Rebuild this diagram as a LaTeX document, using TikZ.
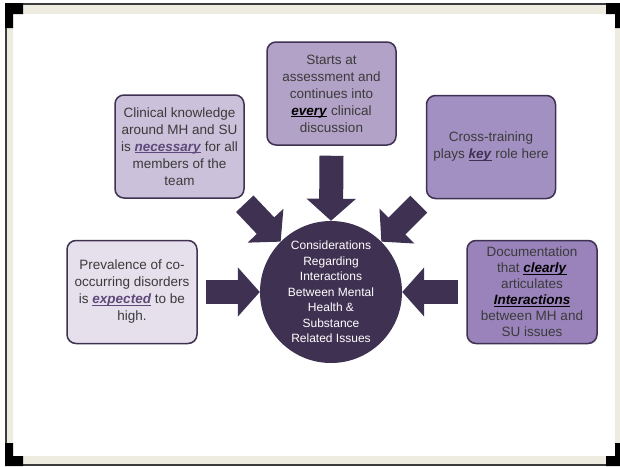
\documentclass[tikz,border=0pt]{standalone}
\usepackage{fontspec}
\setmainfont{Liberation Sans}
\usetikzlibrary{arrows.meta}

\definecolor{dpurple}{HTML}{3F3151}
\definecolor{mpurple}{HTML}{5F497A}
\definecolor{txtgray}{HTML}{3A3A3A}
\definecolor{tan}{HTML}{EEECE1}
\definecolor{rimline}{HTML}{3C3C3C}
\definecolor{fillA}{HTML}{E6E0EC}
\definecolor{fillB}{HTML}{CCC1DA}
\definecolor{fillC}{HTML}{B3A2C7}
\definecolor{fillD}{HTML}{A390C2}
\definecolor{fillE}{HTML}{9A82BB}

% bold italic keyword, underlined just below the baseline
\newsavebox{\kwbox}
\newcommand{\kw}[2]{\textcolor{#1}{\sbox{\kwbox}{\textbf{\textit{#2}}}%
  \rlap{\rule[-1.6pt]{\wd\kwbox}{0.9pt}}\usebox{\kwbox}}}

\tikzset{
  box/.style={draw=dpurple, line width=1.5pt, rounded corners=9pt,
    minimum width=129pt, minimum height=103pt, inner sep=0pt,
    align=center, text=txtgray, font=\fontsize{13.5}{17}\selectfont},
  hub/.style={circle, fill=dpurple, minimum size=142pt, inner sep=0pt,
    align=center, text=white, font=\fontsize{12}{15.5}\selectfont},
  blockarrow/.style={draw=dpurple, line width=24pt,
    -{Triangle[length=22pt,width=48pt]}},
  corner/.style={fill=black, draw=none}
}

\begin{document}
\begin{tikzpicture}[x=1pt,y=-1pt]
\useasboundingbox (0,0) rectangle (620,466);

% slide frame
\fill[tan] (5,3) rectangle (620,466);
\fill[rimline] (5,3) rectangle (620,5);
\fill[rimline] (5,3) rectangle (7,466);
\fill[rimline] (5,464) rectangle (620,466);
\fill[white] (13,14) rectangle (615,456);
\fill[corner] (5,3) -- (23,3) -- (23,14) -- (13,14) -- (13,28) -- (5,28) -- cycle;
\fill[corner] (606,3) -- (620,3) -- (620,28) -- (615,28) -- (615,14) -- (606,14) -- cycle;
\fill[corner] (5,466) -- (23,466) -- (23,456) -- (13,456) -- (13,443) -- (5,443) -- cycle;
\fill[corner] (606,466) -- (620,466) -- (620,443) -- (615,443) -- (615,456) -- (606,456) -- cycle;

% hub
\node[hub] (c) at (331,292)
  {Considerations\\Regarding\\Interactions\\Between Mental\\Health \&\\Substance\\Related Issues};

% surrounding boxes
\node[box, fill=fillC] (top) at (331.5,93.5)
  {Starts at\\assessment and\\continues into\\\kw{black}{every} clinical\\discussion};
\node[box, fill=fillB] (ul) at (179.5,146.5)
  {Clinical knowledge\\around MH and SU\\is \kw{mpurple}{necessary} for all\\members of the\\team};
\node[box, fill=fillD] (ur) at (491,147)
  {Cross-training\\plays \kw{dpurple}{key} role here};
\node[box, fill=fillA, minimum width=130pt] (ll) at (132,292)
  {Prevalence of co-\\occurring disorders\\is \kw{mpurple}{expected} to be\\high.};
\node[box, fill=fillE, minimum width=130pt,
      font=\fontsize{13.5}{16}\selectfont] (lr) at (532,292)
  {Documentation\\that \kw{black}{clearly}\\articulates\\\kw{black}{Interactions}\\between MH and\\SU issues};

% arrows into the hub
\draw[blockarrow] ([yshift=-10pt]top.south) -- (c.north);
\draw[blockarrow] ([xshift=8pt]ll.east) -- (c.west);
\draw[blockarrow] ([xshift=-8pt]lr.west) -- (c.east);
\draw[blockarrow] ([shift={(0pt,-5pt)}]ul.south east) -- (c.north west);
\draw[blockarrow] ([shift={(-7pt,-5pt)}]ur.south west) -- (c.north east);
\end{tikzpicture}
\end{document}
